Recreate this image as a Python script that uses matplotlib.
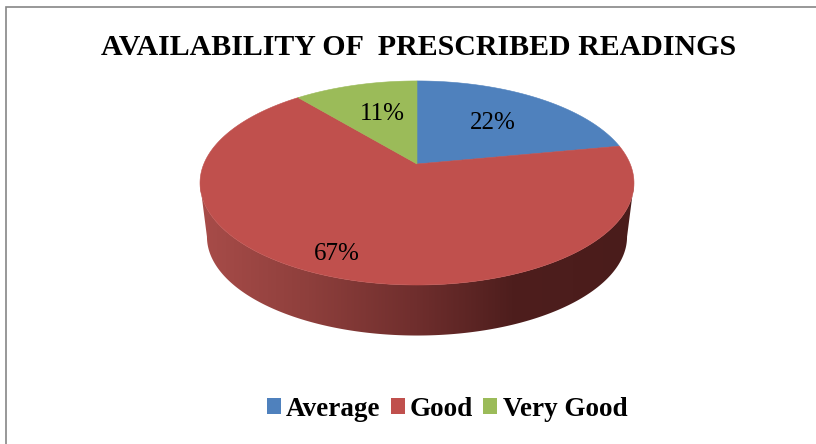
import numpy as np
import matplotlib
matplotlib.use("Agg")
import matplotlib.pyplot as plt
from matplotlib.patches import Polygon, Patch
from matplotlib.colors import LinearSegmentedColormap

title = "AVAILABILITY OF  PRESCRIBED READINGS"
categories = ["Average", "Good", "Very Good"]
values = [22, 67, 11]
colors = ["#4F81BD", "#C0504D", "#9BBB59"]
label_pos = [(493, 122.5), (337, 254), (382, 114)]

W, H = 816, 444
plt.rcParams["font.family"] = ["Liberation Serif", "DejaVu Serif"]
fig = plt.figure(figsize=(W / 100, H / 100), dpi=100)
ax = fig.add_axes([0, 0, 1, 1])
ax.set_xlim(0, W)
ax.set_ylim(H, 0)
ax.axis("off")

# perspective projection of a unit disc
CX, CY, A, B, K = 417.0, 164.0, 213.2, 98.5, 0.186
DEPTH_SCALE, DEPTH = 0.968, 55.0


def project(theta, r=1.0, scale=1.0, dy=0.0):
    X, Y = r * np.sin(theta), r * np.cos(theta)
    w = 1 + K * Y
    return np.column_stack([CX + scale * A * X / w,
                            CY + dy + (183 - 164) * (scale - 1) - scale * B * Y / w])


def front_arc(scale=1.0, dy=0.0):
    # clockwise from the right-most point, through the front, to the left-most point
    t = np.radians(np.linspace(0, 360, 1441))
    pts = project(t, scale=scale, dy=dy)
    i_r, i_l = int(np.argmax(pts[:, 0])), int(np.argmin(pts[:, 0]))
    return pts[i_r:i_l + 1]


# side wall with horizontal gradient
top = front_arc()
bot = front_arc(scale=DEPTH_SCALE, dy=DEPTH)
side = Polygon(np.vstack([top, bot[::-1]]), closed=True, facecolor="none", edgecolor="none")
ax.add_patch(side)
cmap = LinearSegmentedColormap.from_list(
    "side", [(0, "#A84C49"), (0.25, "#8E3F3C"), (0.5, "#6F2E2D"),
             (0.72, "#4E1E1D"), (1, "#4A1C1B")])
img = ax.imshow(np.linspace(0, 1, 512)[None, :], cmap=cmap, aspect="auto",
                extent=[200, 634, 340, 150], zorder=1)
img.set_clip_path(side)
ax.set_xlim(0, W)
ax.set_ylim(H, 0)

# top surface
start = 0.0
total = sum(values)
for v, c in zip(values, colors):
    end = start + v / total * 2 * np.pi
    t = np.linspace(start, end, 200)
    pts = np.vstack([[CX, CY], project(t)])
    ax.add_patch(Polygon(pts, closed=True, facecolor=c, edgecolor=c, lw=0.4, zorder=2))
    start = end

for v, (x, y) in zip(values, label_pos):
    ax.text(x, y, f"{v}%", fontsize=18, ha="center", va="center", color="black", zorder=3)

ax.text(418.5, 55, title, fontsize=21.5, fontweight="bold", ha="center", va="baseline")

# chart frame (left and top only are visible)
ax.plot([816, 5.5, 5.5], [7.5, 7.5, 444], color="#868686", lw=1.2, solid_joinstyle="miter")

handles = [Patch(facecolor=c, edgecolor="none") for c in colors]
ax.legend(handles, categories, loc="center", bbox_to_anchor=(447 / W, 1 - 409 / H),
          ncol=3, frameon=False, handlelength=0.52, handleheight=0.52,
          handletextpad=0.2, columnspacing=0.37,
          prop={"family": "Liberation Serif", "weight": "bold", "size": 19.5})

fig.savefig("out.png", dpi=100)
